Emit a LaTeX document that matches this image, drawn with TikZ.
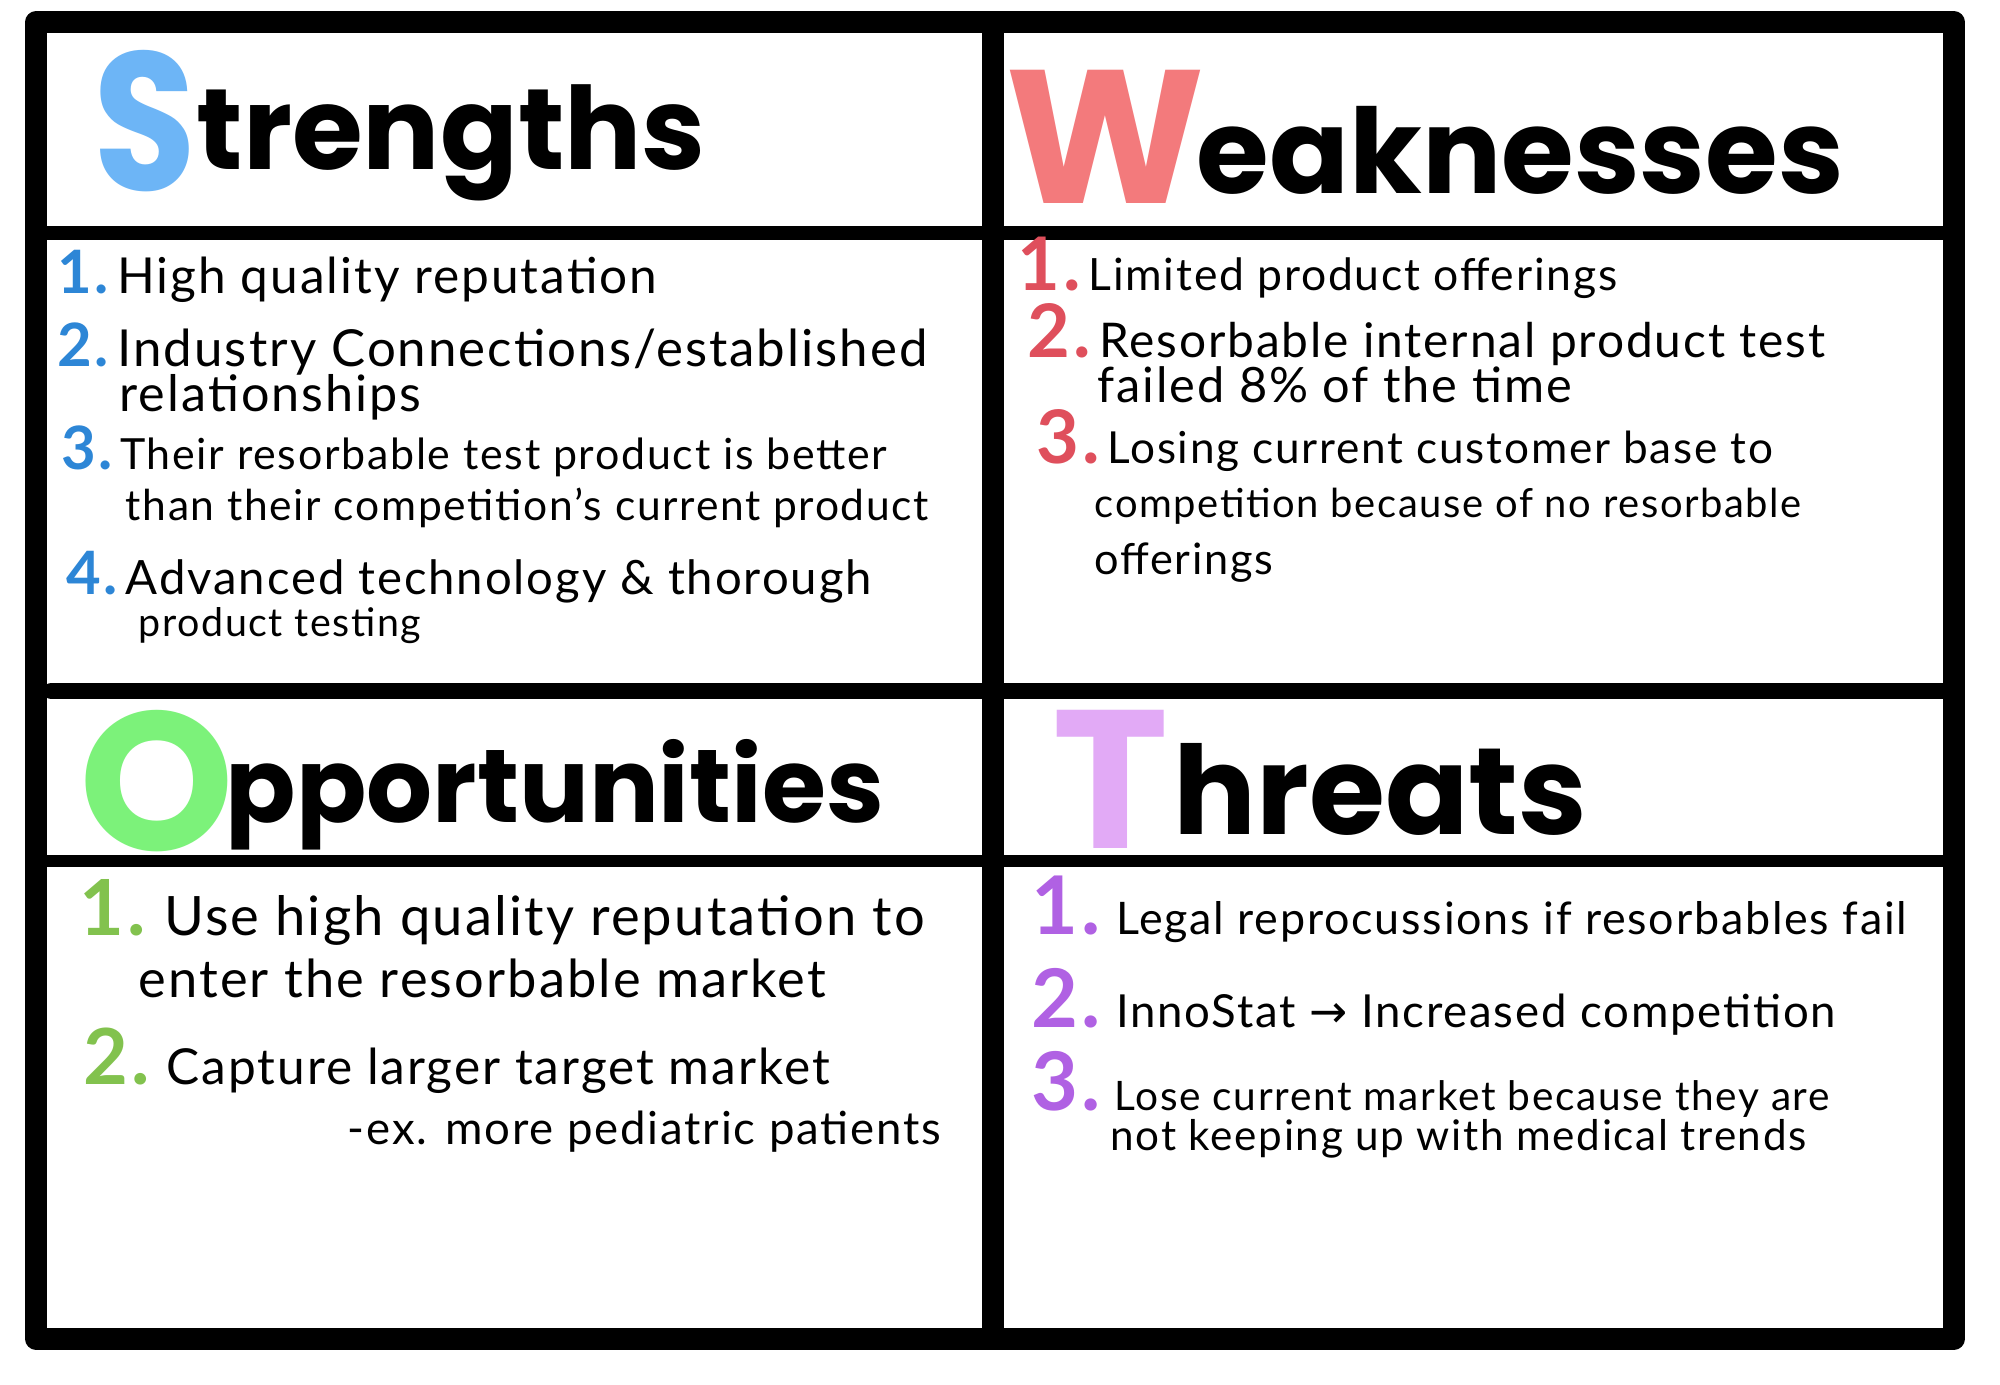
\documentclass[tikz,border=0pt]{standalone}
\usepackage{fontspec}
\setmainfont{Lato}[LetterSpace=4]
\newfontfamily\headfont{Poppins}
\newfontfamily\symfont{DejaVu Sans}
\usepackage{xcolor}
\usetikzlibrary{positioning}

\definecolor{sblue}{HTML}{6DB5F6}
\definecolor{snum}{HTML}{2D86D6}
\definecolor{wred}{HTML}{F37A7C}
\definecolor{wnum}{HTML}{DF4F5C}
\definecolor{ogreen}{HTML}{7CF27A}
\definecolor{onum}{HTML}{82C24E}
\definecolor{tpurple}{HTML}{E2AAF6}
\definecolor{tnum}{HTML}{B061E3}

\newcommand{\fsz}[1]{\fontsize{#1pt}{#1pt}\selectfont}
% big coloured first letter: colour, advance, size, letter
\newcommand{\initial}[4]{\makebox[#2][l]{\color{#1}\fsz{#3}#4}}
% coloured item numbers, one size per quadrant
\newcommand{\snr}[1]{{\color{snum}\bfseries\fsz{17}#1}\,}
\newcommand{\wnr}[1]{{\color{wnum}\bfseries\fsz{21}#1}\,}
\newcommand{\onr}[1]{{\color{onum}\bfseries\fsz{22}#1}\,\,}
\newcommand{\tnr}[1]{{\color{tnum}\bfseries\fsz{23}#1}\,\,}

\tikzset{
  frame/.style={line width=6pt, line cap=round, line join=round},
  rule/.style={line width=4pt, line cap=round},
  item/.style={anchor=base west, inner sep=0pt, font=\fsz{14}},
  heading/.style={anchor=base west, inner sep=0pt, font=\headfont\bfseries\fsz{33}},
}

\begin{document}
\begin{tikzpicture}[x=0.01cm, y=-0.01cm]
  \useasboundingbox[fill=white] (0,0) rectangle (2000,1385);

  % grid
  \draw[frame] (36,22) rectangle (1954,1339);
  \draw[frame] (993,22) -- (993,1339);
  \draw[rule, line width=3.7pt] (48,233) -- (1945,233);
  \draw[rule, line width=4.5pt] (51,691) -- (1945,691);
  \draw[rule, line width=3.5pt] (48,861) -- (1945,861);

  % headings
  \node[heading] (sHead) at (93,191)
    {\initial{sblue}{29.3pt}{56}{\scalebox{0.85}[1]{S}}\raisebox{6pt}{\fsz{32.6}trengths}};
  \node[heading] (wHead) at (1005,204)
    {\initial{wred}{54.3pt}{54}{W}\raisebox{2.85pt}{\fsz{33.5}eaknesses}};
  \node[heading] (oHead) at (79,850)
    {\initial{ogreen}{41.5pt}{56}{O}\raisebox{7.7pt}{\fsz{29.5}pportunities}};
  \node[heading] (tHead) at (1052,848)
    {\initial{tpurple}{34.4pt}{56}{T}\raisebox{3.7pt}{\fsz{35}hreats}};

  % strengths
  \node[item, font=\fsz{14.1}] (s1) at (57,293) {\snr{1.}High quality reputation};
  \node[item, font=\fsz{14.5}] (s2) at (57,366) {\snr{2.}Industry Connections/established};
  \node[item, font=\fsz{14.3}] (s2b) at (119,411) {relationships};
  \node[item, font=\fsz{12.2}] (s3) at (61,469) {\snr{3.}Their resorbable test product is better};
  \node[item, font=\fsz{12.1}] (s3b) at (125,520) {than their competition's current product};
  \node[item, font=\fsz{13.45}] (s4) at (66,594) {\snr{4.}Advanced technology \& thorough};
  \node[item, font=\fsz{11.2}] (s4b) at (138,636) {product testing};

  % weaknesses
  \node[item, font=\fsz{12.65}] (w1) at (1017,291) {\wnr{1.}Limited product offerings};
  \node[item, font=\fsz{13.6}] (w2) at (1027,357) {\wnr{2.}Resorbable internal product test};
  \node[item, font=\fsz{13.85}] (w2b) at (1097,402) {failed 8\% of the time};
  \node[item, font=\fsz{12.55}] (w3) at (1036,463) {\wnr{3.}Losing current customer base to};
  \node[item, font=\fsz{11.35}] (w3b) at (1094,517) {competition because of no resorbable};
  \node[item, font=\fsz{12.3}] (w3c) at (1094,574) {offerings};

  % opportunities
  \node[item, font=\fsz{15.45}] (o1) at (79,935) {\onr{1.}Use high quality reputation to};
  \node[item, font=\fsz{14.9}] (o1b) at (138,997) {enter the resorbable market};
  \node[item, font=\fsz{14.1}] (o2) at (83,1084) {\onr{2.}Capture larger target market};
  \node[item, font=\fsz{12.95}] (o2b) at (347,1144) {-ex. more pediatric patients};

  % threats
  \node[item, font=\fsz{12.75}] (t1) at (1031,934) {\tnr{1.}Legal reprocussions if resorbables fail};
  \node[item, font=\fsz{12.95}] (t2) at (1031,1027) {\tnr{2.}InnoStat {\symfont →} Increased competition};
  \node[item, font=\fsz{11.55}] (t3) at (1031,1110) {\tnr{3.}Lose current market because they are};
  \node[item, font=\fsz{12}] (t3b) at (1110,1150) {not keeping up with medical trends};
\end{tikzpicture}
\end{document}
